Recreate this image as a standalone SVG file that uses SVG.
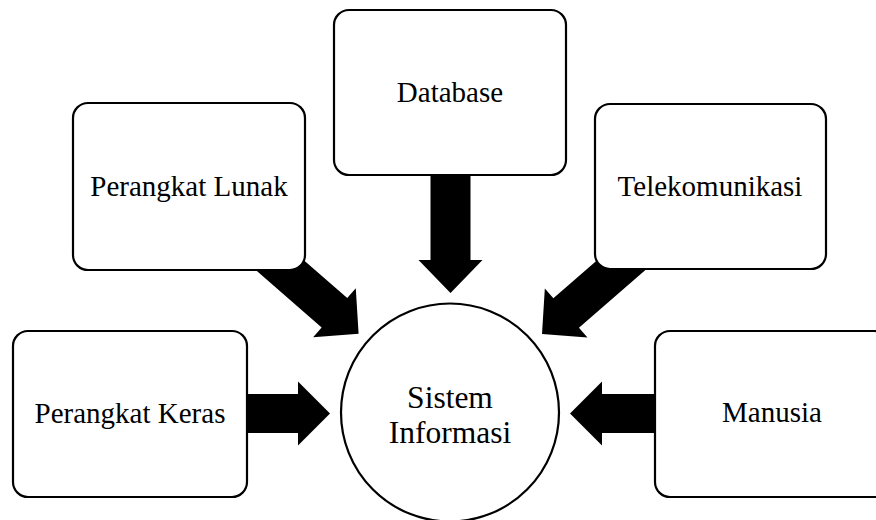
<svg xmlns="http://www.w3.org/2000/svg" width="876" height="520" viewBox="0 0 876 520">
<style>
.box{fill:#fff;stroke:#000;stroke-width:2.2}
.lbl{font-family:"Liberation Serif","Times New Roman",serif;font-size:29px;fill:#000;text-anchor:middle}
.clbl{font-family:"Liberation Serif","Times New Roman",serif;font-size:31.5px;fill:#000;text-anchor:middle}
.arr{fill:#000}
</style>
<rect width="876" height="520" fill="#fff"/>
<g id="connectors">
<path class="arr" transform="translate(330,413.5)" d="M-90,-19.5 L-32,-19.5 L-32,-32 L0,0 L-32,32 L-32,19.5 L-90,19.5 Z"/>
<path class="arr" transform="translate(570,413.5) rotate(180)" d="M-92,-19.5 L-32,-19.5 L-32,-32 L0,0 L-32,32 L-32,19.5 L-92,19.5 Z"/>
<path class="arr" transform="translate(450.5,293) rotate(90)" d="M-125,-20 L-33,-20 L-33,-32 L0,0 L-33,32 L-33,20 L-125,20 Z"/>
<path class="arr" transform="translate(358.6,333.7) rotate(41)" d="M-130,-19.5 L-32,-19.5 L-32,-32.5 L0,0 L-32,32.5 L-32,19.5 L-130,19.5 Z"/>
<path class="arr" transform="translate(542,334) rotate(139)" d="M-130,-19.5 L-32,-19.5 L-32,-32.5 L0,0 L-32,32.5 L-32,19.5 L-130,19.5 Z"/>
</g>
<g id="perangkat-keras">
<rect class="box" x="13" y="331" width="234" height="166" rx="15"/>
<text class="lbl" x="130" y="423">Perangkat Keras</text>
</g>
<g id="perangkat-lunak">
<rect class="box" x="73" y="103" width="232" height="167" rx="15"/>
<text class="lbl" x="189" y="196">Perangkat Lunak</text>
</g>
<g id="database">
<rect class="box" x="334" y="10" width="232" height="165" rx="15"/>
<text class="lbl" x="450" y="102">Database</text>
</g>
<g id="telekomunikasi">
<rect class="box" x="595" y="104" width="231" height="165" rx="15"/>
<text class="lbl" x="710" y="196">Telekomunikasi</text>
</g>
<g id="manusia">
<rect class="box" x="655" y="331" width="234" height="166" rx="15"/>
<text class="lbl" x="772" y="422">Manusia</text>
</g>
<g id="sistem-informasi">
<circle class="box" cx="450" cy="412.5" r="109"/>
<text class="clbl" x="450" y="408">Sistem</text>
<text class="clbl" x="450" y="443">Informasi</text>
</g>
</svg>
